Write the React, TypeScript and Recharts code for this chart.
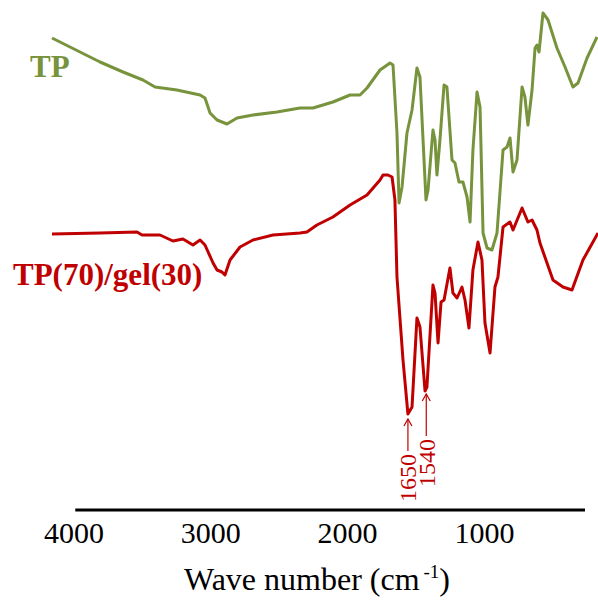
import { LineChart, Line, XAxis, YAxis, ReferenceLine } from "recharts";

// [wavenumber (cm-1), transmittance (a.u., curves offset)]
const tpPoints: [number, number][] = [
	[4160, 472], [3809, 448], [3641, 438], [3495, 430], [3407, 423], [3247, 420],
	[3078, 415], [3042, 412], [3005, 397], [2954, 390], [2881, 386], [2808, 392],
	[2691, 395], [2516, 398], [2348, 402], [2253, 402], [2107, 408], [1982, 415],
	[1909, 415], [1858, 422], [1763, 440], [1690, 447], [1668, 445], [1639, 377],
	[1624, 307], [1602, 323], [1566, 377], [1529, 400], [1493, 442], [1471, 433],
	[1427, 310], [1412, 320], [1376, 380], [1361, 370], [1347, 335], [1325, 370],
	[1295, 425], [1274, 423], [1237, 350], [1215, 347], [1186, 328], [1157, 328],
	[1127, 313], [1105, 288], [1084, 360], [1054, 418], [1032, 403], [1010, 277],
	[981, 262], [945, 260], [908, 277], [864, 360], [835, 363], [813, 372],
	[791, 338], [762, 350], [725, 423], [704, 413], [682, 385], [652, 420],
	[630, 462], [616, 465], [601, 458], [572, 497], [535, 490], [470, 462],
	[411, 443], [353, 423], [316, 427], [250, 452], [177, 473],
];

const blendPoints: [number, number][] = [
	[4160, 276], [3809, 277], [3539, 278], [3502, 275], [3371, 275], [3276, 269],
	[3203, 271], [3130, 265], [3078, 270], [3042, 265], [2983, 247], [2954, 240],
	[2918, 238], [2896, 235], [2859, 250], [2786, 263], [2691, 270], [2545, 275],
	[2348, 277], [2297, 278], [2224, 285], [2107, 293], [1982, 305], [1858, 315],
	[1763, 330], [1741, 335], [1705, 335], [1675, 333], [1654, 310], [1639, 233],
	[1595, 150], [1559, 96], [1529, 103], [1493, 192], [1471, 183], [1434, 119],
	[1420, 123], [1376, 225], [1361, 217], [1339, 167], [1317, 208], [1295, 210],
	[1252, 242], [1230, 217], [1200, 212], [1164, 223], [1142, 210], [1113, 182],
	[1084, 240], [1047, 268], [1018, 250], [996, 187], [959, 157], [923, 223],
	[901, 233], [864, 283], [813, 288], [791, 280], [725, 302], [682, 288],
	[652, 290], [616, 280], [594, 267], [499, 230], [426, 223], [360, 220],
	[280, 250], [170, 277],
];

const xTicks = [4000, 3000, 2000, 1000];

const peakLabels = ["1650", "1540"];
const peakWave = [1559, 1425];
const peakTip = [91, 116];
const peakTail = [59, 74];

const GREEN = "#77933c";
const RED = "#c00000";
const FONT = "'Liberation Serif', 'Times New Roman', serif";

const tpData = tpPoints.map(([wn, t]) => ({ wn, t }));
const blendData = blendPoints.map(([wn, t]) => ({ wn, t }));

function makeArrow(label: string) {
	return (props: any) => {
		const { x1, y1, y2 } = props;
		const tipY = Math.min(y1, y2);
		const tailY = Math.max(y1, y2);
		return (
			<g>
				<line x1={x1} y1={tipY} x2={x1} y2={tailY} stroke={RED} strokeWidth={1.2} />
				<path
					d={`M${x1 - 4},${tipY + 7} L${x1},${tipY} L${x1 + 4},${tipY + 7}`}
					fill="none"
					stroke={RED}
					strokeWidth={1.2}
				/>
				<text
					x={x1}
					y={tailY + 3}
					transform={`rotate(-90 ${x1} ${tailY + 3})`}
					textAnchor="end"
					dy="0.35em"
					fontFamily={FONT}
					fontSize={24}
					fill={RED}
				>
					{label}
				</text>
			</g>
		);
	};
}

function WaveTick(props: any) {
	const { x, y, payload } = props;
	return (
		<g>
			<text
				x={x}
				y={y}
				dy="0.71em"
				textAnchor="middle"
				fontSize={30}
				fill="#000"
				style={{ fontFamily: FONT }}
			>
				{payload.value}
			</text>
		</g>
	);
}

function AxisTitle(props: any) {
	const { viewBox } = props;
	const cx = viewBox.x + viewBox.width / 2 - 8;
	return (
		<text x={cx} y={590} textAnchor="middle" fontFamily={FONT} fontSize={32} fill="#000">
			Wave number (cm
			<tspan dx={4} dy={-12} fontSize={19}>
				-1
			</tspan>
			<tspan dy={12}>)</tspan>
		</text>
	);
}

export default function App() {
	return (
		<div
			style={{ position: "absolute", left: 0, top: 0, background: "#fff", fontFamily: FONT }}
		>
			<LineChart
				width={598}
				height={603}
				margin={{ top: 0, right: 0, bottom: 63, left: 52 }}
				style={{ fontFamily: FONT }}
			>
				<XAxis
					type="number"
					dataKey="wn"
					domain={[170, 4160]}
					reversed
					ticks={xTicks}
					axisLine={false}
					tickLine={false}
					tickSize={0}
					tickMargin={12}
					height={30}
					tick={<WaveTick />}
					label={<AxisTitle />}
				/>
				<YAxis type="number" domain={[0, 510]} hide />
				<ReferenceLine
					segment={[
						{ x: 3990, y: 0 },
						{ x: 265, y: 0 },
					]}
					stroke="#000"
					strokeWidth={3}
				/>
				<Line
					data={blendData}
					dataKey="t"
					type="linear"
					stroke={RED}
					strokeWidth={3}
					strokeLinejoin="round"
					dot={false}
					isAnimationActive={false}
				/>
				<Line
					data={tpData}
					dataKey="t"
					type="linear"
					stroke={GREEN}
					strokeWidth={3}
					strokeLinejoin="round"
					dot={false}
					isAnimationActive={false}
				/>
				{peakLabels.map((label, i) => (
					<ReferenceLine
						key={label}
						segment={[
							{ x: peakWave[i], y: peakTip[i] },
							{ x: peakWave[i], y: peakTail[i] },
						]}
						shape={makeArrow(label)}
					/>
				))}
				<text x={30} y={77} fontFamily={FONT} fontSize={31} fontWeight="bold" fill={GREEN}>
					TP
				</text>
				<text x={13} y={285} fontFamily={FONT} fontSize={31} fontWeight="bold" fill={RED}>
					TP(70)/gel(30)
				</text>
			</LineChart>
		</div>
	);
}
